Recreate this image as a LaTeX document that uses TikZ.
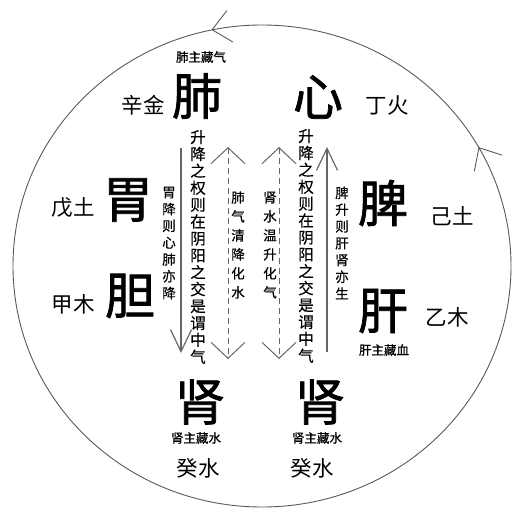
\documentclass[tikz,border=0pt]{standalone}
\usepackage{fontspec}
\usepackage{tikz}
\usetikzlibrary{positioning}
\usetikzlibrary{arrows.meta}
\usetikzlibrary{decorations.markings}
\newfontfamily\cjk{Noto Sans CJK SC}
\newfontfamily\cjkheavy[FakeBold=1.5]{Noto Sans CJK SC}
\newfontfamily\cjkbold[FakeBold=0.8]{Noto Sans CJK SC}
\newfontfamily\cjkmid[FakeBold=0.4]{Noto Sans CJK SC}

\begin{document}
\begin{tikzpicture}[
x=1pt, y=-1pt,
organ/.style={
  font=\cjkheavy\fontsize{50}{50}\selectfont,
  inner sep=0pt
  },
stem/.style={font=\cjk\fontsize{21.5}{21.5}\selectfont, inner sep=0pt},
store/.style={font=\cjkbold\fontsize{12.5}{12.5}\selectfont, inner sep=0pt},
maincol/.style={font=\cjkmid\fontsize{15.5}{16.9}\selectfont, align=center, inner sep=0pt},
sidecol/.style={font=\cjkmid\fontsize{13.5}{16.8}\selectfont, align=center, inner sep=0pt},
midcol/.style={font=\cjkmid\fontsize{13.5}{19}\selectfont, align=center, inner sep=0pt},
ring/.style={draw=black!65, line width=0.9pt},
flow/.style={draw=black!60, line width=1.2pt},
ringtip/.tip={Straight Barb[length=18pt, width=32pt, line width=0.9pt]}
]
\useasboundingbox (0,0) rectangle (522,522);

% the cycle
\path[ring, postaction={decorate}, decoration={markings,
  mark=at position 0.919 with {\arrowreversed{ringtip}},
  mark=at position 0.717 with {\arrowreversed{ringtip}},
  mark=at position 0.511 with {\arrowreversed{ringtip}},
  mark=at position 0.328 with {\arrowreversed{ringtip}},
  mark=at position 0.111 with {\arrowreversed{ringtip}}}]
  (262,266) ellipse [x radius=249, y radius=241];

% organs
\node[organ] (lung) at (197,96) {肺};
\node[organ] (heart) at (318,97) {心};
\node[organ] (stomach) at (128,200) {胃};
\node[organ] (gall) at (130,296) {胆};
\node[organ] (spleen) at (383,203) {脾};
\node[organ] (liver) at (383,311) {肝};
\node[organ] (kidneyl) at (200,402) {肾};
\node[organ] (kidneyr) at (320,402) {肾};

% stems
\node[stem] (xin) at (143,105) {辛金};
\node[stem] (ding) at (387,105) {丁火};
\node[stem] (wu) at (73,208) {戊土};
\node[stem] (jia) at (73,304) {甲木};
\node[stem] (ji) at (452,216) {己土};
\node[stem] (yi) at (447,317) {乙木};
\node[stem] (guil) at (198,468) {癸水};
\node[stem] (guir) at (312,468) {癸水};

% stores
\node[store] (lungstore) at (201,57) {肺主藏气};
\node[store] (liverstore) at (384,350) {肝主藏血};
\node[store] (kidneystorel) at (196,438) {肾主藏水};
\node[store] (kidneystorer) at (317,438) {肾主藏水};

% columns
\node[maincol] (axisl) at (198,247)
  {升\\降\\之\\权\\则\\在\\阴\\阳\\之\\交\\是\\谓\\中\\气};
\node[maincol] (axisr) at (306,246)
  {升\\降\\之\\权\\则\\在\\阴\\阳\\之\\交\\是\\谓\\中\\气};
\node[sidecol] (descend) at (169,243) {胃\\降\\则\\心\\肺\\亦\\降};
\node[sidecol] (ascend) at (342,243) {脾\\升\\则\\肝\\肾\\亦\\生};
\node[midcol] (metal) at (238,245) {肺\\气\\清\\降\\化\\水};
\node[midcol] (water) at (270,245) {肾\\水\\温\\升\\化\\气};

% flows
\coordinate (downtop) at (181,148);
\coordinate (downend) at (181,353);
\coordinate (uptop) at (327,147);
\coordinate (upend) at (327,352);
\coordinate (metaltop) at (228,147);
\coordinate (metalend) at (228,359);
\coordinate (watertop) at (279,147);
\coordinate (waterend) at (279,359);
\draw[flow, -{Straight Barb[length=22pt, width=21pt]}] (downtop) -- (downend);
\draw[flow, -{Straight Barb[length=22pt, width=21pt]}] (upend) -- (uptop);
\draw[flow, line width=1pt, dash pattern=on 6pt off 4pt,
  {Straight Barb[length=16pt, width=34pt]}-{Straight Barb[length=16pt, width=34pt]}]
  (metaltop) -- (metalend);
\draw[flow, line width=1pt, dash pattern=on 6pt off 4pt,
  {Straight Barb[length=16pt, width=34pt]}-{Straight Barb[length=16pt, width=34pt]}]
  (watertop) -- (waterend);
\end{tikzpicture}
\end{document}
